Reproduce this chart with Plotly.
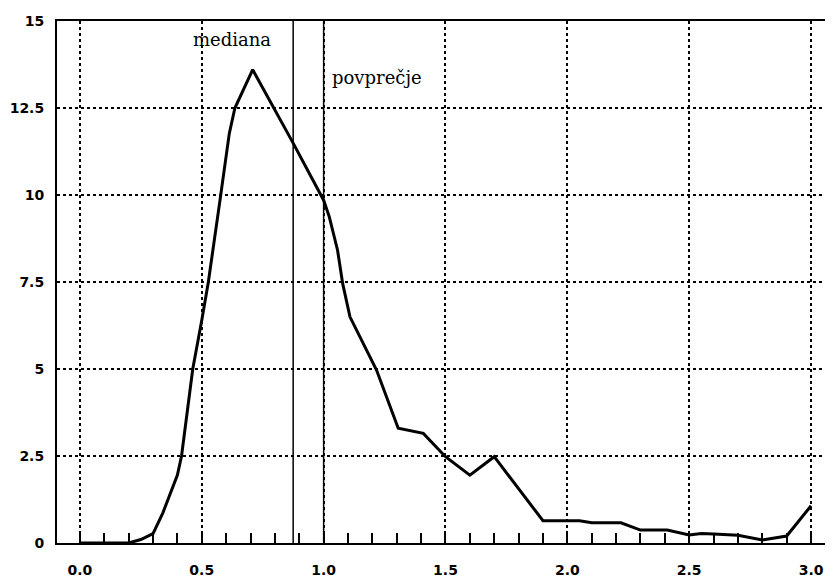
import plotly.graph_objects as go

# Density curve vertices
x_vals = [0.0, 0.2, 0.25, 0.3, 0.34, 0.4, 0.417, 0.463, 0.5, 0.527, 0.575, 0.613, 0.636,
          0.709, 0.875, 1.0, 1.023, 1.057, 1.078, 1.108, 1.217, 1.306, 1.409, 1.5, 1.6,
          1.7, 1.9, 2.05, 2.1, 2.22, 2.3, 2.41, 2.5, 2.55, 2.6, 2.7, 2.8, 2.9, 3.0]
y_vals = [0.0, 0.0, 0.1, 0.27, 0.86, 1.95, 2.5, 5.0, 6.4, 7.5, 9.86, 11.77, 12.5,
          13.6, 11.49, 9.85, 9.38, 8.42, 7.46, 6.5, 4.97, 3.3, 3.15, 2.48, 1.95,
          2.48, 0.64, 0.64, 0.58, 0.58, 0.37, 0.37, 0.23, 0.27, 0.26, 0.22, 0.09, 0.2, 1.07]

median_x = 0.875
mean_x = 1.0
labels = ["mediana", "povprečje"]

x_ticks = [0.0, 0.5, 1.0, 1.5, 2.0, 2.5, 3.0]
x_ticktext = ["0.0", "0.5", "1.0", "1.5", "2.0", "2.5", "3.0"]
y_ticks = [0, 2.5, 5, 7.5, 10, 12.5, 15]
y_ticktext = ["0", "2.5", "5", "7.5", "10", "12.5", "15"]

fig = go.Figure()
fig.add_trace(go.Scatter(x=x_vals, y=y_vals, mode="lines",
                         line=dict(color="black", width=3), showlegend=False,
                         hoverinfo="skip"))

for xv in (median_x, mean_x):
    fig.add_shape(type="line", x0=xv, x1=xv, y0=0, y1=1, xref="x", yref="paper",
                  line=dict(color="black", width=1.5))

fig.add_annotation(x=0.624, y=14.48, xref="x", yref="y", text=labels[0],
                   showarrow=False, xanchor="center", yanchor="middle",
                   font=dict(family="DejaVu Serif", size=18, color="black"))
fig.add_annotation(x=1.026, y=13.39, xref="x", yref="y", text=labels[1],
                   showarrow=False, xanchor="left", yanchor="middle",
                   font=dict(family="DejaVu Serif", size=18, color="black"))

tick_font = dict(family="DejaVu Sans", size=14, color="black", weight="bold")

# The page body adds an 8 px offset, so the figure is sized to fill the rest.
fig.update_layout(
    width=825, height=573,
    margin=dict(l=49, r=0, t=13, b=38),
    paper_bgcolor="white", plot_bgcolor="white",
    font=dict(family="DejaVu Sans", size=14, color="black"),
    xaxis=dict(range=[-0.094, 3.09], tickvals=x_ticks, ticktext=x_ticktext,
               automargin=False, tickfont=tick_font,
               showgrid=True, gridcolor="black", griddash="dot", gridwidth=1.5,
               showline=True, linecolor="black", linewidth=2, mirror=True,
               ticks="inside", ticklen=10, tickwidth=1.5, tickcolor="black",
               ticklabelstandoff=13,
               minor=dict(dtick=0.1, tick0=0, ticks="inside", ticklen=10,
                          tickwidth=1.5, tickcolor="black", showgrid=False),
               zeroline=False, fixedrange=True),
    yaxis=dict(range=[0, 15], tickvals=y_ticks, ticktext=y_ticktext,
               automargin=False, tickfont=tick_font,
               showgrid=True, gridcolor="black", griddash="dot", gridwidth=1.5,
               showline=True, linecolor="black", linewidth=2, mirror=False,
               ticks="", ticklabelstandoff=8,
               zeroline=False, fixedrange=True),
)

fig.write_html("out.html")
